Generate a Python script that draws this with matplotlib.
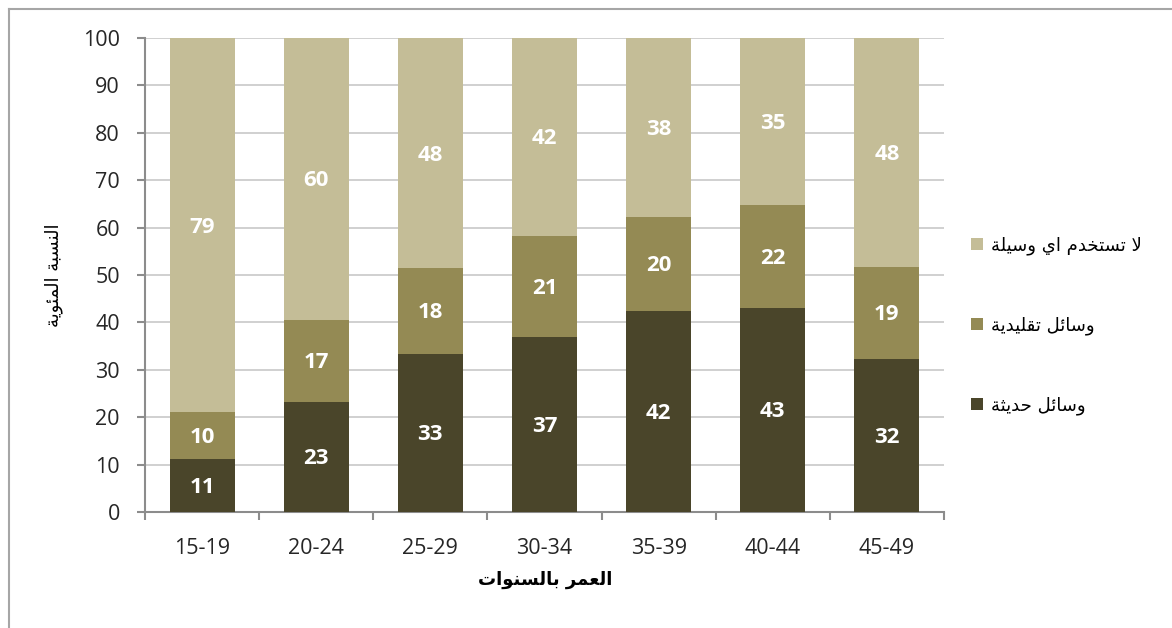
import matplotlib
matplotlib.use("Agg")
import matplotlib.pyplot as plt
from matplotlib.lines import Line2D
from matplotlib.patches import Patch
import numpy as np

# ---- data ----
categories = ["15-19", "20-24", "25-29", "30-34", "35-39", "40-44", "45-49"]
modern = [11.2, 23.2, 33.3, 37.0, 42.4, 43.1, 32.3]
traditional = [9.8, 17.3, 18.2, 21.3, 19.8, 21.6, 19.4]
none_used = [79.0, 59.6, 48.4, 41.7, 37.8, 35.3, 48.3]
yticks = [0, 10, 20, 30, 40, 50, 60, 70, 80, 90, 100]

ylabel_txt = "النسبة المئوية"
xlabel_txt = "العمر بالسنوات"
legend_none = "لا تستخدم اي وسيلة"
legend_trad = "وسائل تقليدية"
legend_modern = "وسائل حديثة"

# ---- minimal Arabic shaping (contextual forms + RTL order) ----
FORMS = {
    '\u0627': ('\uFE8D', '\uFE8E', None, None),
    '\u0626': ('\uFE89', '\uFE8A', '\uFE8B', '\uFE8C'),
    '\u0628': ('\uFE8F', '\uFE90', '\uFE91', '\uFE92'),
    '\u0629': ('\uFE93', '\uFE94', None, None),
    '\u062A': ('\uFE95', '\uFE96', '\uFE97', '\uFE98'),
    '\u062B': ('\uFE99', '\uFE9A', '\uFE9B', '\uFE9C'),
    '\u062D': ('\uFEA1', '\uFEA2', '\uFEA3', '\uFEA4'),
    '\u062E': ('\uFEA5', '\uFEA6', '\uFEA7', '\uFEA8'),
    '\u062F': ('\uFEA9', '\uFEAA', None, None),
    '\u0631': ('\uFEAD', '\uFEAE', None, None),
    '\u0633': ('\uFEB1', '\uFEB2', '\uFEB3', '\uFEB4'),
    '\u0639': ('\uFEC9', '\uFECA', '\uFECB', '\uFECC'),
    '\u0642': ('\uFED5', '\uFED6', '\uFED7', '\uFED8'),
    '\u0644': ('\uFEDD', '\uFEDE', '\uFEDF', '\uFEE0'),
    '\u0645': ('\uFEE1', '\uFEE2', '\uFEE3', '\uFEE4'),
    '\u0646': ('\uFEE5', '\uFEE6', '\uFEE7', '\uFEE8'),
    '\u0648': ('\uFEED', '\uFEEE', None, None),
    '\u064A': ('\uFEF1', '\uFEF2', '\uFEF3', '\uFEF4'),
    'LA': ('\uFEFB', '\uFEFC', None, None),
}


def shape(s):
    toks = []
    i = 0
    while i < len(s):
        if s[i] == '\u0644' and i + 1 < len(s) and s[i + 1] == '\u0627':
            toks.append('LA')
            i += 2
        else:
            toks.append(s[i])
            i += 1
    out = []
    for j, t in enumerate(toks):
        if t not in FORMS:
            out.append(t)
            continue
        f = FORMS[t]
        prev = toks[j - 1] if j > 0 else None
        nxt = toks[j + 1] if j + 1 < len(toks) else None
        cp = prev in FORMS and FORMS[prev][2] is not None
        cn = f[2] is not None and nxt in FORMS
        if cp and cn:
            out.append(f[3])
        elif cp:
            out.append(f[1])
        elif cn:
            out.append(f[2])
        else:
            out.append(f[0])
    return ''.join(reversed(out))


# ---- style ----
c_none = "#C4BD97"
c_trad = "#948A54"
c_modern = "#4A452A"
axis_col = "#8C8C8C"
grid_col = "#C8C8C8"
text_col = "#262626"

W, H = 1172, 628
fig = plt.figure(figsize=(W / 100, H / 100), dpi=100)
ax = fig.add_axes([145 / W, 1 - 512 / H, (944 - 145) / W, (512 - 38) / H])

x = np.arange(len(categories))
bw = 0.57
b1 = ax.bar(x, modern, bw, color=c_modern, zorder=3)
bottom2 = np.array(modern)
b2 = ax.bar(x, traditional, bw, bottom=bottom2, color=c_trad, zorder=3)
bottom3 = bottom2 + np.array(traditional)
b3 = ax.bar(x, none_used, bw, bottom=bottom3, color=c_none, zorder=3)

for bars, vals, bots in ((b1, modern, np.zeros(len(x))), (b2, traditional, bottom2), (b3, none_used, bottom3)):
    for xi, v, b in zip(x, vals, bots):
        ax.text(xi, b + v / 2 - 0.4, f"{v:.0f}", ha="center", va="center", color="white",
                fontsize=16, fontweight="bold", family="Open Sans", zorder=4)

ax.set_xlim(-0.5, len(categories) - 0.5)
ax.set_ylim(0, 100)
ax.set_yticks(yticks)
ax.yaxis.grid(True, color=grid_col, linewidth=1.2, zorder=0)
ax.set_axisbelow(True)

# x: ticks at category boundaries, labels at centers
ax.set_xticks(np.arange(len(categories) + 1) - 0.5)
ax.set_xticklabels([])
ax.set_xticks(x, minor=True)
ax.set_xticklabels(categories, minor=True)
ax.tick_params(axis="x", which="major", length=6, width=1.5, color=axis_col, direction="out")
ax.tick_params(axis="x", which="minor", length=0, pad=19, labelsize=15.5, labelcolor=text_col)
ax.tick_params(axis="y", length=6, width=1.5, color=axis_col, pad=12, labelsize=15.5, labelcolor=text_col)
for lab in ax.get_xticklabels(minor=True) + ax.get_yticklabels():
    lab.set_family("Open Sans")

for side in ("top", "right"):
    ax.spines[side].set_visible(False)
for side in ("left", "bottom"):
    ax.spines[side].set_color(axis_col)
    ax.spines[side].set_linewidth(1.5)

fig.text(54 / W, 1 - 275 / H, shape(ylabel_txt), rotation=90, ha="center", va="center",
         fontsize=13, family="DejaVu Sans", color="black")
fig.text(545 / W, 1 - 580 / H, shape(xlabel_txt), ha="center", va="center",
         fontsize=13, fontweight="bold", family="DejaVu Sans", color="black")

handles = [Patch(facecolor=c_none), Patch(facecolor=c_trad), Patch(facecolor=c_modern)]
labels = [shape(legend_none), shape(legend_trad), shape(legend_modern)]
leg = fig.legend(handles, labels, loc="center left", bbox_to_anchor=(971 / W, 1 - 326 / H),
                 frameon=False, handlelength=0.65, handleheight=0.65,
                 handletextpad=0.45, labelspacing=3.4, borderpad=0, borderaxespad=0,
                 prop={"family": "DejaVu Sans", "size": 13})

# outer chart border (top and left visible)
fig.add_artist(Line2D([9 / W, 1.0], [1 - 9 / H, 1 - 9 / H], color="#A6A6A6", linewidth=1.5))
fig.add_artist(Line2D([9 / W, 9 / W], [0, 1 - 9 / H], color="#A6A6A6", linewidth=1.5))

fig.savefig("out.png", dpi=100)
